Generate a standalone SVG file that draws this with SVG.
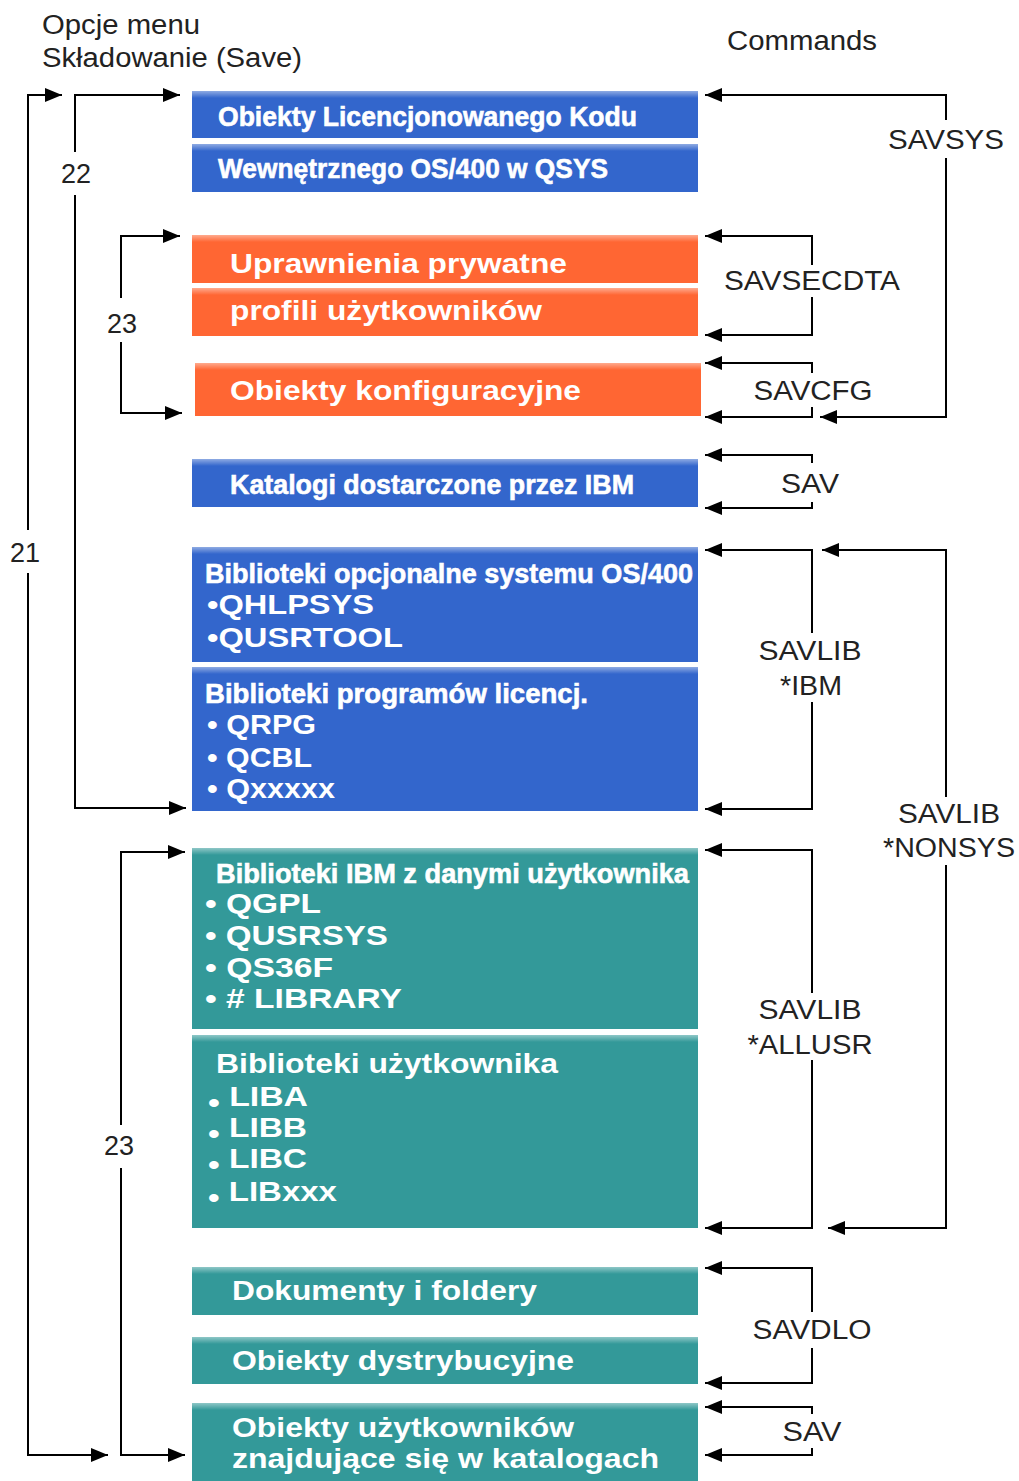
<svg xmlns="http://www.w3.org/2000/svg" width="1019" height="1481" viewBox="0 0 1019 1481">
<style>
.lbl{font-family:"Liberation Sans",Arial,sans-serif;font-size:27px;fill:#222}
.bt{font-family:"Liberation Sans",Arial,sans-serif;font-size:28px;font-weight:bold;fill:#fff}
.ct{font-family:"Liberation Sans",Arial,sans-serif;font-size:28px;font-weight:bold;fill:#fff;stroke:#fff;stroke-width:0.6}
.blue{fill:#3366CC}
.orange{fill:#FF6633}
.teal{fill:#339999}
.bev{fill:url(#bevel)}
.con{fill:none;stroke:#000;stroke-width:2;marker-end:url(#ah)}
</style>
<defs>
<linearGradient id="bevel" x1="0" y1="0" x2="0" y2="1">
<stop offset="0" stop-color="#fff" stop-opacity="0.45"/>
<stop offset="1" stop-color="#fff" stop-opacity="0"/>
</linearGradient>
<marker id="ah" markerUnits="userSpaceOnUse" markerWidth="18" markerHeight="16" refX="17" refY="7" orient="auto">
<path d="M0,0 L17,7 L0,14 z" fill="#000"/>
</marker>
</defs>
<rect width="1019" height="1481" fill="#fff"/>

<g id="labels">
<text class="lbl" x="42" y="34" font-size="26" textLength="158" lengthAdjust="spacingAndGlyphs">Opcje menu</text>
<text class="lbl" x="42" y="67" font-size="26" textLength="260" lengthAdjust="spacingAndGlyphs">Składowanie (Save)</text>
<text class="lbl" x="727" y="50" font-size="26" textLength="150" lengthAdjust="spacingAndGlyphs">Commands</text>
<text class="lbl" x="76" y="183" text-anchor="middle">22</text>
<text class="lbl" x="122" y="333" text-anchor="middle">23</text>
<text class="lbl" x="25" y="562" text-anchor="middle">21</text>
<text class="lbl" x="119" y="1155" text-anchor="middle">23</text>
<text class="lbl" x="946" y="149" text-anchor="middle" textLength="116" lengthAdjust="spacingAndGlyphs">SAVSYS</text>
<text class="lbl" x="812" y="290" text-anchor="middle" textLength="176" lengthAdjust="spacingAndGlyphs">SAVSECDTA</text>
<text class="lbl" x="813" y="400" text-anchor="middle" textLength="119" lengthAdjust="spacingAndGlyphs">SAVCFG</text>
<text class="lbl" x="810" y="493" text-anchor="middle" textLength="58" lengthAdjust="spacingAndGlyphs">SAV</text>
<text class="lbl" x="810" y="660" text-anchor="middle" textLength="103" lengthAdjust="spacingAndGlyphs">SAVLIB</text>
<text class="lbl" x="811" y="695" text-anchor="middle" textLength="62" lengthAdjust="spacingAndGlyphs">*IBM</text>
<text class="lbl" x="949" y="823" text-anchor="middle" textLength="102" lengthAdjust="spacingAndGlyphs">SAVLIB</text>
<text class="lbl" x="949" y="857" text-anchor="middle" textLength="132" lengthAdjust="spacingAndGlyphs">*NONSYS</text>
<text class="lbl" x="810" y="1019" text-anchor="middle" textLength="103" lengthAdjust="spacingAndGlyphs">SAVLIB</text>
<text class="lbl" x="810" y="1054" text-anchor="middle" textLength="125" lengthAdjust="spacingAndGlyphs">*ALLUSR</text>
<text class="lbl" x="812" y="1339" text-anchor="middle" textLength="119" lengthAdjust="spacingAndGlyphs">SAVDLO</text>
<text class="lbl" x="812" y="1441" text-anchor="middle" textLength="59" lengthAdjust="spacingAndGlyphs">SAV</text>
</g>

<g id="n1">
<rect class="blue" x="192" y="91" width="506" height="47"/><rect class="bev" x="192" y="91" width="506" height="7"/>
<text class="ct" x="218" y="126" font-size="27" textLength="419" lengthAdjust="spacingAndGlyphs">Obiekty Licencjonowanego Kodu</text>
</g>
<g id="n2">
<rect class="blue" x="192" y="144" width="506" height="48"/><rect class="bev" x="192" y="144" width="506" height="7"/>
<text class="ct" x="218" y="178" font-size="27" textLength="390" lengthAdjust="spacingAndGlyphs">Wewnętrznego OS/400 w QSYS</text>
</g>
<g id="n3">
<rect class="orange" x="192" y="235" width="506" height="48"/><rect class="bev" x="192" y="235" width="506" height="7"/>
<text class="bt" x="230" y="273" textLength="337" lengthAdjust="spacingAndGlyphs">Uprawnienia prywatne</text>
</g>
<g id="n4">
<rect class="orange" x="192" y="288" width="506" height="48"/><rect class="bev" x="192" y="288" width="506" height="7"/>
<text class="bt" x="230" y="320" textLength="312" lengthAdjust="spacingAndGlyphs">profili użytkowników</text>
</g>
<g id="n5">
<rect class="orange" x="195" y="363" width="506" height="53"/><rect class="bev" x="195" y="363" width="506" height="7"/>
<text class="bt" x="230" y="400" textLength="351" lengthAdjust="spacingAndGlyphs">Obiekty konfiguracyjne</text>
</g>
<g id="n6">
<rect class="blue" x="192" y="459" width="506" height="48"/><rect class="bev" x="192" y="459" width="506" height="7"/>
<text class="ct" x="230" y="494" textLength="404" lengthAdjust="spacingAndGlyphs">Katalogi dostarczone przez IBM</text>
</g>
<g id="n7">
<rect class="blue" x="192" y="547" width="506" height="115"/><rect class="bev" x="192" y="547" width="506" height="7"/>
<text class="ct" x="205" y="583" textLength="488" lengthAdjust="spacingAndGlyphs">Biblioteki opcjonalne systemu OS/400</text>
<text class="bt" x="207" y="614" textLength="167" lengthAdjust="spacingAndGlyphs">•QHLPSYS</text>
<text class="bt" x="207" y="647" textLength="196" lengthAdjust="spacingAndGlyphs">•QUSRTOOL</text>
</g>
<g id="n8">
<rect class="blue" x="192" y="667" width="506" height="144"/><rect class="bev" x="192" y="667" width="506" height="7"/>
<text class="ct" x="205" y="703" textLength="383" lengthAdjust="spacingAndGlyphs">Biblioteki programów licencj.</text>
<text class="bt" x="207" y="734" textLength="109" lengthAdjust="spacingAndGlyphs">• QRPG</text>
<text class="bt" x="207" y="767" textLength="105" lengthAdjust="spacingAndGlyphs">• QCBL</text>
<text class="bt" x="207" y="798" textLength="128" lengthAdjust="spacingAndGlyphs">• Qxxxxx</text>
</g>
<g id="n9">
<rect class="teal" x="192" y="848" width="506" height="181"/><rect class="bev" x="192" y="848" width="506" height="7"/>
<text class="ct" x="216" y="883" textLength="473" lengthAdjust="spacingAndGlyphs">Biblioteki IBM z danymi użytkownika</text>
<text class="bt" x="205" y="913" textLength="116" lengthAdjust="spacingAndGlyphs">•  QGPL</text>
<text class="bt" x="205" y="945" textLength="183" lengthAdjust="spacingAndGlyphs">•  QUSRSYS</text>
<text class="bt" x="205" y="977" textLength="128" lengthAdjust="spacingAndGlyphs">•  QS36F</text>
<text class="bt" x="205" y="1008" textLength="197" lengthAdjust="spacingAndGlyphs">•  # LIBRARY</text>
</g>
<g id="n10">
<rect class="teal" x="192" y="1035" width="506" height="193"/><rect class="bev" x="192" y="1035" width="506" height="7"/>
<text class="bt" x="216" y="1073" textLength="342" lengthAdjust="spacingAndGlyphs">Biblioteki użytkownika</text>
<text class="bt" x="208" y="1106" textLength="100" lengthAdjust="spacingAndGlyphs"><tspan dy="6">•</tspan><tspan dy="-6"> LIBA</tspan></text>
<text class="bt" x="208" y="1137" textLength="99" lengthAdjust="spacingAndGlyphs"><tspan dy="6">•</tspan><tspan dy="-6"> LIBB</tspan></text>
<text class="bt" x="208" y="1168" textLength="99" lengthAdjust="spacingAndGlyphs"><tspan dy="6">•</tspan><tspan dy="-6"> LIBC</tspan></text>
<text class="bt" x="208" y="1201" textLength="129" lengthAdjust="spacingAndGlyphs"><tspan dy="6">•</tspan><tspan dy="-6"> LIBxxx</tspan></text>
</g>
<g id="n11">
<rect class="teal" x="192" y="1267" width="506" height="48"/><rect class="bev" x="192" y="1267" width="506" height="7"/>
<text class="bt" x="232" y="1300" textLength="305" lengthAdjust="spacingAndGlyphs">Dokumenty i foldery</text>
</g>
<g id="n12">
<rect class="teal" x="192" y="1337" width="506" height="47"/><rect class="bev" x="192" y="1337" width="506" height="7"/>
<text class="bt" x="232" y="1370" textLength="342" lengthAdjust="spacingAndGlyphs">Obiekty dystrybucyjne</text>
</g>
<g id="n13">
<rect class="teal" x="192" y="1403" width="506" height="78"/><rect class="bev" x="192" y="1403" width="506" height="7"/>
<text class="bt" x="232" y="1437" textLength="342" lengthAdjust="spacingAndGlyphs">Obiekty użytkowników</text>
<text class="bt" x="232" y="1468" textLength="427" lengthAdjust="spacingAndGlyphs">znajdujące się w katalogach</text>
</g>

<g id="connectors">
<path class="con" d="M946,120 V95 H705"/>
<path class="con" d="M946,158 V417 H820"/>
<path class="con" d="M812,265 V236 H705"/>
<path class="con" d="M812,297 V335 H705"/>
<path class="con" d="M812,373 V363 H705"/>
<path class="con" d="M812,407 V417 H705"/>
<path class="con" d="M812,463 V455 H705"/>
<path class="con" d="M812,502 V508 H705"/>
<path class="con" d="M812,633 V550 H705"/>
<path class="con" d="M812,702 V809 H705"/>
<path class="con" d="M946,797 V550 H822"/>
<path class="con" d="M946,865 V1228 H828"/>
<path class="con" d="M812,993 V850 H705"/>
<path class="con" d="M812,1060 V1228 H705"/>
<path class="con" d="M812,1312 V1268 H705"/>
<path class="con" d="M812,1348 V1383 H705"/>
<path class="con" d="M812,1414 V1407 H705"/>
<path class="con" d="M812,1448 V1455 H705"/>
<path class="con" d="M28,530 V95 H62"/>
<path class="con" d="M28,573 V1455 H108"/>
<path class="con" d="M75,152 V95 H180"/>
<path class="con" d="M75,195 V808 H186"/>
<path class="con" d="M121,298 V236 H180"/>
<path class="con" d="M121,342 V413 H182"/>
<path class="con" d="M121,1125 V852 H185"/>
<path class="con" d="M121,1168 V1455 H185"/>
</g>
</svg>
